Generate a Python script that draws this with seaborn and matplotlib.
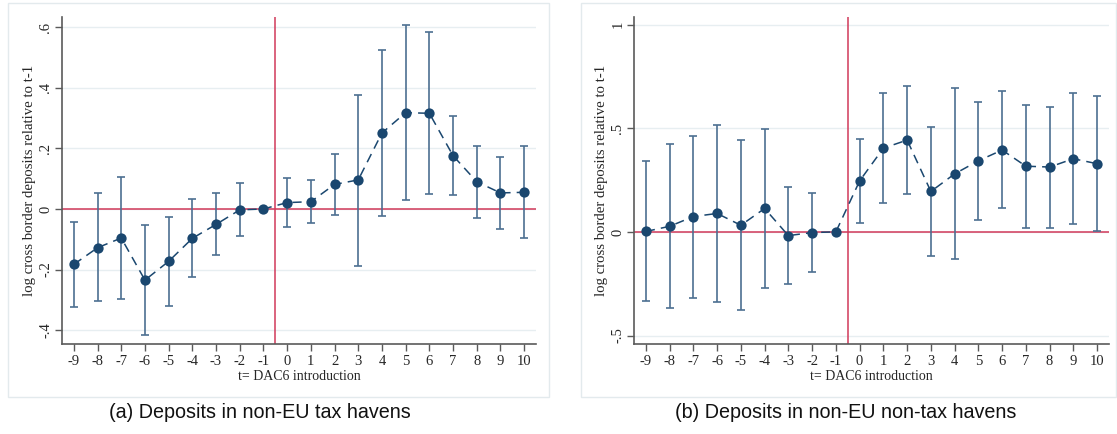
import numpy as np
import pandas as pd
import matplotlib
matplotlib.use("Agg")
import matplotlib.pyplot as plt
from matplotlib.patches import Rectangle
import seaborn as sns

# ---- data ----
periods = list(range(-9, 11))

a_coef = [-0.183, -0.128, -0.096, -0.235, -0.173, -0.097, -0.051, -0.003, 0.0,
          0.021, 0.024, 0.081, 0.096, 0.251, 0.318, 0.316, 0.176, 0.090, 0.053, 0.055]
a_hi = [-0.043, 0.052, 0.107, -0.052, -0.025, 0.033, 0.052, 0.085, 0.0,
        0.103, 0.096, 0.180, 0.378, 0.526, 0.606, 0.584, 0.308, 0.209, 0.171, 0.207]
a_lo = [-0.323, -0.304, -0.299, -0.417, -0.320, -0.225, -0.151, -0.088, 0.0,
        -0.060, -0.047, -0.020, -0.188, -0.024, 0.031, 0.048, 0.045, -0.031, -0.066, -0.097]

b_coef = [0.002, 0.027, 0.074, 0.089, 0.032, 0.113, -0.018, -0.003, 0.0,
          0.246, 0.404, 0.443, 0.195, 0.280, 0.343, 0.395, 0.317, 0.313, 0.353, 0.329]
b_hi = [0.340, 0.422, 0.464, 0.514, 0.444, 0.498, 0.216, 0.188, 0.0,
        0.449, 0.671, 0.702, 0.506, 0.692, 0.628, 0.678, 0.614, 0.605, 0.668, 0.654]
b_lo = [-0.332, -0.369, -0.319, -0.337, -0.378, -0.272, -0.251, -0.193, 0.0,
        0.043, 0.139, 0.184, -0.114, -0.130, 0.056, 0.116, 0.021, 0.018, 0.039, 0.003]

a_yticks = [-0.4, -0.2, 0.0, 0.2, 0.4, 0.6]
a_yticklabels = ["-.4", "-.2", "0", ".2", ".4", ".6"]
b_yticks = [-0.5, 0.0, 0.5, 1.0]
b_yticklabels = ["-.5", "0", ".5", "1"]

ylabel = "log cross border deposits relative to t-1"
xlabel = "t= DAC6 introduction"
captions = ["(a) Deposits in non-EU tax havens", "(b) Deposits in non-EU non-tax havens"]

# ---- style ----
sns.set_theme(style="white")
plt.rcParams["font.family"] = ["Liberation Serif", "DejaVu Serif"]

W, H = 1117, 434
fig = plt.figure(figsize=(W / 100, H / 100), dpi=100)

NAVY = "#1a476f"
BAR = "#4d6f91"
RED = "#d1395a"
GRID = "#e7eef1"
FRAME = "#e3eaed"
SPINE = "#5a5a5a"


def px_axes(x0, x1, y0, y1):
    return fig.add_axes([x0 / W, 1 - y1 / H, (x1 - x0) / W, (y1 - y0) / H])


def frame(x0, x1, y0, y1):
    fig.patches.append(Rectangle((x0 / W, 1 - y1 / H), (x1 - x0) / W, (y1 - y0) / H,
                                 transform=fig.transFigure, fill=False,
                                 edgecolor=FRAME, linewidth=1.0, zorder=0))


def panel(ax, coef, lo, hi, yticks, yticklabels, ylim):
    df = pd.DataFrame({"t": periods, "b": coef, "lo": lo, "hi": hi})
    ax.set_xlim(-9.5, 10.5)
    ax.set_ylim(*ylim)
    for yt in yticks:
        ax.axhline(yt, color=GRID, lw=1.0, zorder=0)
    ax.axhline(0, color=RED, lw=1.1, zorder=1)
    ax.axvline(-0.5, color=RED, lw=1.1, zorder=1)
    err = df[df["t"] != -1]
    ax.errorbar(err["t"], err["b"],
                yerr=[err["b"] - err["lo"], err["hi"] - err["b"]],
                fmt="none", ecolor=BAR, elinewidth=1.2, capsize=3, capthick=1.2, zorder=2)
    sns.lineplot(data=df, x="t", y="b", ax=ax, color=NAVY, lw=1.1,
                 linestyle=(0, (6, 4)), zorder=3)
    sns.scatterplot(data=df, x="t", y="b", ax=ax, color=NAVY, s=55,
                    edgecolor=NAVY, linewidth=0, zorder=4)
    ax.set_xticks(periods)
    ax.set_xticklabels([str(p) for p in periods], fontsize=10.5)
    ax.set_yticks(yticks)
    ax.set_yticklabels(yticklabels, rotation=90, va="center", fontsize=10.5)
    ax.set_xlabel(xlabel, fontsize=10, labelpad=1)
    ax.set_ylabel(ylabel, fontsize=10.6, labelpad=2)
    ax.tick_params(axis="both", direction="out", length=5, width=1.0, color=SPINE,
                   bottom=True, left=True, pad=3)
    ax.tick_params(axis="y", pad=2)
    ax.grid(False)
    for s in ["top", "right"]:
        ax.spines[s].set_visible(False)
    for s in ["left", "bottom"]:
        ax.spines[s].set_color(SPINE)
        ax.spines[s].set_linewidth(1.2)
    ax.set_facecolor("white")


frame(8, 549, 3, 397)
frame(581, 1116, 3, 397)

ax1 = px_axes(62, 536, 17, 344)
panel(ax1, a_coef, a_lo, a_hi, a_yticks, a_yticklabels, (-0.446, 0.634))

ax2 = px_axes(634, 1109, 17, 344)
panel(ax2, b_coef, b_lo, b_hi, b_yticks, b_yticklabels, (-0.541, 1.037))

fig.text(260 / W, 1 - 412 / H, captions[0], ha="center", va="center",
         fontsize=14.2, family=["Liberation Sans", "DejaVu Sans"], color="#111111")
fig.text(846 / W, 1 - 412 / H, captions[1], ha="center", va="center",
         fontsize=14.2, family=["Liberation Sans", "DejaVu Sans"], color="#111111")

fig.savefig("out.png", dpi=100, facecolor="white")
